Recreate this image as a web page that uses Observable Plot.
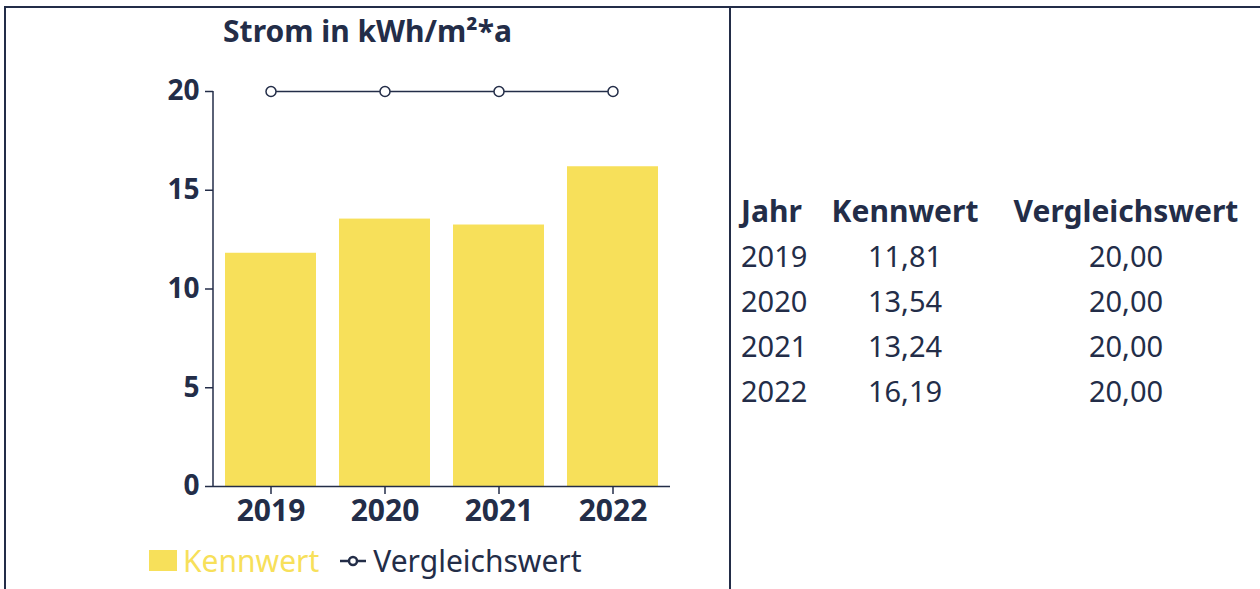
<!DOCTYPE html>
<html>
<head>
<meta charset="utf-8">
<script src="https://cdn.jsdelivr.net/npm/d3@7"></script>
<script src="https://cdn.jsdelivr.net/npm/@observablehq/plot@0.6"></script>
<style>
  html, body { margin: 0; padding: 0; background: #fff; width: 1260px; height: 589px; overflow: hidden; }
  body { font-family: "Noto Sans", sans-serif; color: #232d48; position: relative; }
  .frame-top { position: absolute; left: 4px; top: 6px; width: 1256px; height: 2px; background: #232d48; }
  .frame-left { position: absolute; left: 4px; top: 6px; width: 2px; height: 583px; background: #232d48; }
  .frame-mid { position: absolute; left: 729px; top: 6px; width: 2px; height: 583px; background: #232d48; }
  #title { position: absolute; left: 6px; width: 723px; top: 11px; text-align: center; font-weight: 700; font-size: 30px; line-height: 40px; }
  #chart { position: absolute; left: 0; top: 70px; }
  #legend { position: absolute; left: 149px; top: 540px; height: 40px; display: flex; align-items: center; font-size: 30px; }
  .sw { width: 28px; height: 21px; margin-right: 6px; }
  .k { margin-right: 21px; }
  #table { position: absolute; left: 0; top: 0; }
  .cell { position: absolute; font-size: 29px; line-height: 45px; white-space: nowrap; }
  .hd { font-weight: 700; font-size: 30px; }
</style>
</head>
<body>
<div class="frame-top"></div>
<div class="frame-left"></div>
<div class="frame-mid"></div>
<div id="title">Strom in kWh/m²*a</div>
<div id="chart"></div>
<div id="legend"></div>
<div id="table"></div>
<script>
const years = ["2019", "2020", "2021", "2022"];
const kennwert = [11.81, 13.54, 13.24, 16.19];
const vergleichswert = [20.00, 20.00, 20.00, 20.00];
const yTicks = [0, 5, 10, 15, 20];
const headers = ["Jahr", "Kennwert", "Vergleichswert"];
const seriesNames = ["Kennwert", "Vergleichswert"];

const navy = "#232d48";
const yellow = "#f7e05a";

const data = years.map((y, i) => ({year: y, k: kennwert[i], v: vergleichswert[i]}));

const chart = Plot.plot({
  width: 730,
  height: 460,
  marginLeft: 213,
  marginRight: 60,
  marginTop: 21,
  marginBottom: 44,
  style: {fontFamily: "Noto Sans", color: navy, background: "transparent"},
  x: {domain: years, paddingInner: 0.2, paddingOuter: 0.1, label: null},
  y: {domain: [0, 20], label: null},
  marks: [
    Plot.barY(data, {x: "year", y: "k", fill: yellow}),
    Plot.ruleY([0], {stroke: navy, strokeWidth: 1.5}),
    Plot.axisY({ticks: yTicks, tickSize: 8, tickPadding: 6, fontSize: 28, fontWeight: 700, stroke: navy, strokeWidth: 1.5, strokeOpacity: 1, label: null}),
    Plot.axisX({tickSize: 8, tickPadding: 5, fontSize: 30, fontWeight: 700, stroke: navy, strokeWidth: 1.5, strokeOpacity: 1, label: null}),
    Plot.line(data, {x: "year", y: "v", stroke: navy, strokeWidth: 1.5}),
    Plot.dot(data, {x: "year", y: "v", r: 5, fill: "white", stroke: navy, strokeWidth: 1.5})
  ]
});
// y axis domain line drawn through the y scale
const ys = chart.scale("y");
d3.select(chart).append("line")
  .attr("x1", 213).attr("x2", 213)
  .attr("y1", ys.apply(20)).attr("y2", ys.apply(0))
  .attr("stroke", navy).attr("stroke-width", 1.5);
document.getElementById("chart").append(chart);

// legend
const legend = d3.select("#legend");
legend.append("div").attr("class", "sw").style("background", yellow);
legend.append("span").attr("class", "k").style("color", yellow).text(seriesNames[0]);
const sym = legend.append("svg").attr("width", 26).attr("height", 20).style("margin-right", "7px");
sym.append("line").attr("x1", 0).attr("x2", 26).attr("y1", 11).attr("y2", 11).attr("stroke", navy).attr("stroke-width", 2.5);
sym.append("circle").attr("cx", 13).attr("cy", 11).attr("r", 4).attr("fill", "white").attr("stroke", navy).attr("stroke-width", 2.5);
legend.append("span").style("color", navy).text(seriesNames[1]);

// table
const fmt = v => v.toFixed(2).replace(".", ",");
const tbl = d3.select("#table");
const cols = [{left: 741, w: 0, align: "left"}, {left: 815, w: 180, align: "center"}, {left: 996, w: 260, align: "center"}];
const top0 = 188;
headers.forEach((h, j) => {
  const c = tbl.append("div").attr("class", "cell hd").style("left", cols[j].left + "px").style("top", top0 + "px").style("text-align", cols[j].align).text(h);
  if (cols[j].w) c.style("width", cols[j].w + "px");
});
data.forEach((d, i) => {
  const vals = [d.year, fmt(d.k), fmt(d.v)];
  vals.forEach((v, j) => {
    const c = tbl.append("div").attr("class", "cell").style("left", cols[j].left + "px").style("top", (top0 + 45 * (i + 1)) + "px").style("text-align", cols[j].align).text(v);
    if (cols[j].w) c.style("width", cols[j].w + "px");
  });
});
</script>
</body>
</html>
